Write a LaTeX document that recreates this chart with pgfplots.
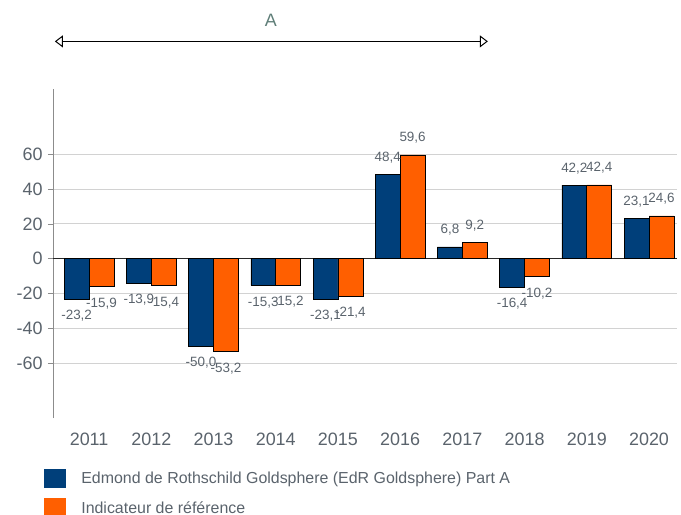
\documentclass[border=0pt]{standalone}
\usepackage{pgfplots}
\pgfplotsset{compat=1.18}
\usepackage{fontspec}
\setmainfont{Liberation Sans}
\usetikzlibrary{arrows.meta}
\definecolor{edrblue}{HTML}{003F7A}
\definecolor{edrorange}{HTML}{FF5F00}
\definecolor{txt}{HTML}{5A636C}
\definecolor{atxt}{HTML}{5F7E78}
\begin{document}
\begin{tikzpicture}
\path[use as bounding box] (0,0) rectangle (681bp,515bp);
\begin{axis}[
  at={(53bp,97bp)}, anchor=south west,
  width=624bp, height=328.5bp, scale only axis,
  xmin=-0.58, xmax=9.45, ymin=-91.4, ymax=97.1,
  ybar=0pt, bar width=0.4,
  xtick={0,...,9},
  xticklabels={2011,2012,2013,2014,2015,2016,2017,2018,2019,2020},
  ytick={-60,-40,-20,0,20,40,60},
  ymajorgrids, grid style={gray!35, line width=0.8pt},
  axis lines*=left,
  x axis line style={draw=none},
  y axis line style={draw=gray!90, line width=1pt},
  xtick style={draw=none},
  ytick style={draw=gray!90, line width=0.6pt},
  tick align=outside, major tick length=5bp,
  /pgf/number format/assume math mode=true,
  tick label style={font=\fontsize{18}{18}\selectfont, color=txt},
  yticklabel style={xshift=-2bp},
  xticklabel style={yshift=-6bp},
  clip=false,
  nodes near coords,
  nodes near coords style={font=\fontsize{13.5}{13.5}\selectfont, color=txt, inner ysep=11bp,
     /pgf/number format/.cd, fixed, fixed zerofill, precision=1, use comma, assume math mode=true},
  legend style={at={(-0.019,-0.15)}, anchor=north west, draw=none, fill=none,
     font=\fontsize{16}{16}\selectfont, text=txt, row sep=10bp,
     /tikz/every even column/.append style={column sep=6bp},
     /tikz/every odd column/.append style={column sep=13bp}},
  legend cell align=left,
  legend image code/.code={\draw[#1, draw=none] (0bp,-9.5bp) rectangle (22bp,9.5bp);},
]
\draw[black!85, line width=0.8pt] (axis cs:-0.58,0) -- (axis cs:9.45,0);
\addplot[fill=edrblue, draw=black, line width=0.6pt] coordinates {
 (0,-23.2) (1,-13.9) (2,-50.0) (3,-15.3) (4,-23.1) (5,48.4) (6,6.8) (7,-16.4) (8,42.2) (9,23.1)};
\addplot[fill=edrorange, draw=black, line width=0.6pt] coordinates {
 (0,-15.9) (1,-15.4) (2,-53.2) (3,-15.2) (4,-21.4) (5,59.6) (6,9.2) (7,-10.2) (8,42.4) (9,24.6)};
\legend{Edmond de Rothschild Goldsphere (EdR Goldsphere) Part A, Indicateur de référence}
\draw[{Triangle[open, length=8bp, width=12bp]}-{Triangle[open, length=8bp, width=12bp]}, line width=1pt, black]
  (axis cs:-0.55,124.7) -- (axis cs:6.41,124.7);
\node[font=\fontsize{18}{18}\selectfont, text=atxt] at (axis cs:2.92,137) {A};
\end{axis}
\end{tikzpicture}
\end{document}
